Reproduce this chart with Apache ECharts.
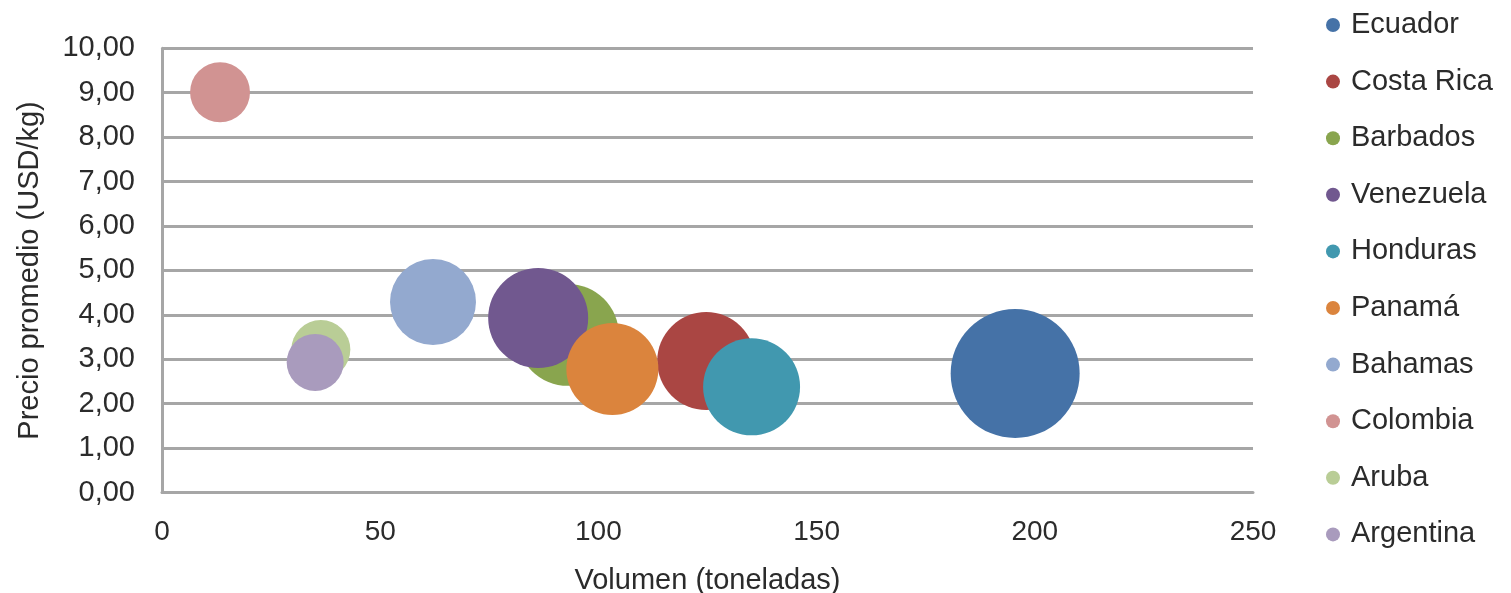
<!DOCTYPE html>
<html>
<head>
<meta charset="utf-8">
<script src="https://cdn.jsdelivr.net/npm/echarts@6/dist/echarts.min.js"></script>
<style>html,body{margin:0;padding:0;background:#fff}#c{width:1511px;height:593px}</style>
</head>
<body>
<div id="c"></div>
<script>
// Data
const countries = ["Ecuador","Costa Rica","Barbados","Venezuela","Honduras","Panamá","Bahamas","Colombia","Aruba","Argentina"];
const volumes   = [195.5, 124.7, 93.0, 86.2, 135.1, 103.2, 62.1, 13.3, 36.4, 35.1];   // toneladas
const prices    = [2.68, 2.96, 3.55, 3.93, 2.38, 2.78, 4.29, 9.01, 3.22, 2.93];      // USD/kg
const bubbleSz  = [100, 57.7, 62.5, 60.1, 56.5, 50.9, 44.4, 21.6, 20.9, 19.5];      // relative bubble size
const xTicks = [0, 50, 100, 150, 200, 250];
const yTicks = [0,1,2,3,4,5,6,7,8,9,10];

const palette = ["#4572A7","#AA4643","#89A54E","#71588F","#4198AF","#DB843D","#93A9CF","#D19392","#B9CD96","#A99BBD"];
const FONT = "Liberation Sans, Arial, sans-serif";
const TXT = "#2b2b2b";

const chart = echarts.init(document.getElementById('c'));
const series = countries.map((c, i) => ({
  name: c,
  type: 'scatter',
  data: [[volumes[i], prices[i], bubbleSz[i]]],
  symbolSize: d => Math.sqrt(d[2]) * 12.9,
  itemStyle: { color: palette[i], opacity: 1 },
  emphasis: { disabled: true },
  z: 2
}));

chart.setOption({
  animation: false,
  color: palette,
  grid: { left: 162, right: 258, top: 48.3, bottom: 100.4, containLabel: false, outerBoundsMode: 'none' },
  legend: {
    orient: 'vertical',
    left: 1321, top: 5,
    icon: 'circle',
    itemWidth: 14, itemHeight: 14,
    itemGap: 26.6,
    data: countries,
    textStyle: { fontFamily: FONT, fontSize: 29, color: TXT, lineHeight: 30, padding: [0,0,0,6] }
  },
  xAxis: {
    type: 'value', min: xTicks[0], max: xTicks[xTicks.length-1], interval: 50,
    name: 'Volumen (toneladas)', nameLocation: 'middle', nameGap: 74,
    nameTextStyle: { fontFamily: FONT, fontSize: 29, color: TXT },
    axisLine: { show: true, lineStyle: { color: '#a6a6a6', width: 3 } },
    axisTick: { show: false },
    splitLine: { show: false },
    axisLabel: { fontFamily: FONT, fontSize: 28, color: TXT, margin: 26 }
  },
  yAxis: {
    type: 'value', min: yTicks[0], max: yTicks[yTicks.length-1], interval: 1,
    name: 'Precio promedio (USD/kg)', nameLocation: 'middle', nameGap: 118, nameRotate: 90,
    nameTextStyle: { fontFamily: FONT, fontSize: 29, color: TXT },
    axisLine: { show: true, lineStyle: { color: '#a6a6a6', width: 3 } },
    axisTick: { show: false },
    splitLine: { show: true, lineStyle: { color: '#a6a6a6', width: 3 } },
    axisLabel: { fontFamily: FONT, fontSize: 29, color: TXT, margin: 27,
      formatter: v => v.toFixed(2).replace('.', ',') }
  },
  series: series
});
</script>
</body>
</html>
